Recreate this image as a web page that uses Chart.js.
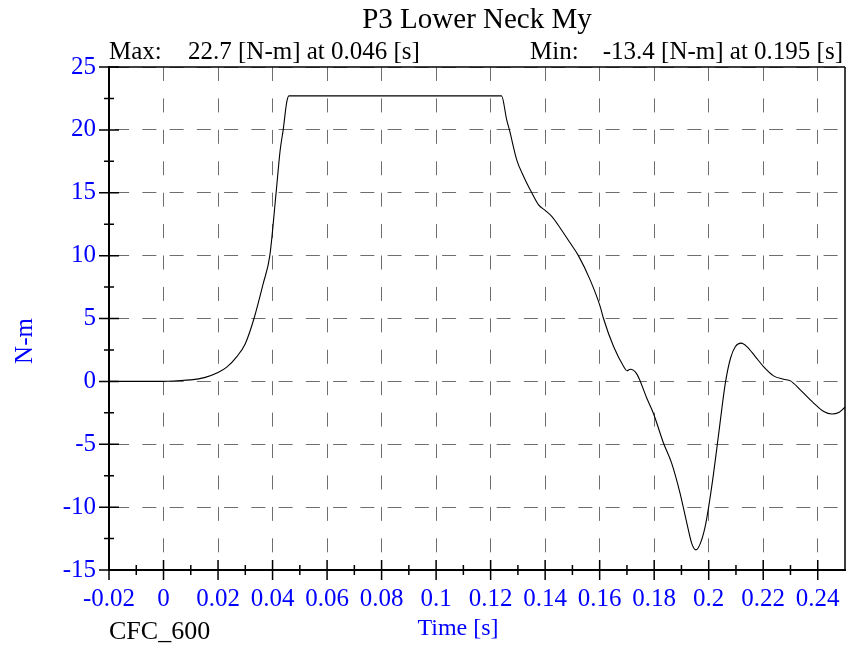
<!DOCTYPE html>
<html>
<head>
<meta charset="utf-8">
<script src="https://cdn.jsdelivr.net/npm/chart.js@4.4.1/dist/chart.umd.min.js"></script>
<style>
  html, body { margin: 0; padding: 0; background: #ffffff; }
  #wrap { width: 860px; height: 646px; }
</style>
</head>
<body>
<div id="wrap"><canvas id="c" width="860" height="646"></canvas></div>
<script>
// ---- data ----
const timeS = [
  -0.02, -0.01, 0, 0.005, 0.01, 0.015, 0.02, 0.0232, 0.0269, 0.030, 0.0332, 0.0366, 0.039,
  0.0413, 0.0428, 0.0439, 0.0452, 0.046, 0.085, 0.124, 0.1259, 0.1269, 0.1296, 0.1321, 0.1351,
  0.1376, 0.140, 0.1425, 0.1455, 0.1492, 0.1522, 0.1565, 0.1602, 0.1614, 0.1651, 0.1688, 0.170,
  0.1712, 0.1736, 0.1773, 0.1797, 0.1834, 0.1864, 0.1895, 0.192, 0.1938, 0.1953, 0.1969, 0.1987,
  0.200, 0.2018, 0.2037, 0.2061, 0.208, 0.2098, 0.2119, 0.214, 0.2171, 0.2201, 0.2238, 0.2275,
  0.230, 0.2336, 0.2385, 0.2422, 0.2452, 0.2477, 0.25
];
const myNm = [
  0, 0, 0.0, 0.05, 0.12, 0.3, 0.7, 1.13, 1.97, 3.0, 5.0, 7.8, 10.0,
  15.0, 18.4, 20.0, 22.2, 22.7, 22.7, 22.7, 20.8, 20.0, 17.6, 16.3, 15.0,
  14.04, 13.6, 13.1, 12.2, 11.0, 10.0, 8.07, 5.95, 5.0, 2.77, 1.18, 0.84,
  0.97, 0.6, -1.34, -2.53, -4.9, -6.5, -8.9, -11.3, -12.9, -13.4, -12.9, -11.55,
  -9.96, -7.3, -4.1, -0.14, 1.84, 2.77, 3.04, 2.77, 1.97, 1.18, 0.44, 0.17,
  0.04, -0.68, -1.73, -2.4, -2.6, -2.48, -2.05
];
const xTickValues = [-0.02, 0, 0.02, 0.04, 0.06, 0.08, 0.1, 0.12, 0.14, 0.16, 0.18, 0.2, 0.22, 0.24];
const xTickLabels = ['-0.02', '0', '0.02', '0.04', '0.06', '0.08', '0.1', '0.12', '0.14', '0.16', '0.18', '0.2', '0.22', '0.24'];
const xMinorTicks = [-0.01, 0.01, 0.03, 0.05, 0.07, 0.09, 0.11, 0.13, 0.15, 0.17, 0.19, 0.21, 0.23];
const yTickValues = [-15, -10, -5, 0, 5, 10, 15, 20, 25];
const yTickLabels = ['-15', '-10', '-5', '0', '5', '10', '15', '20', '25'];
const yMinorTicks = [-12.5, -7.5, -2.5, 2.5, 7.5, 12.5, 17.5, 22.5];
const titleText = 'P3 Lower Neck My';
const maxLabel = 'Max:';
const maxText = '22.7 [N-m] at 0.046 [s]';
const minLabel = 'Min:';
const minText = '-13.4 [N-m] at 0.195 [s]';
const yTitle = 'N-m';
const xTitle = 'Time [s]';
const filterText = 'CFC_600';

const SERIF = '"Liberation Serif", "Times New Roman", serif';
const BLUE = '#0000ff';
const GRID = '#6e6e6e';

const decor = {
  id: 'decor',
  afterDraw(chart) {
    const ctx = chart.ctx;
    const a = chart.chartArea;
    const xs = chart.scales.x, ys = chart.scales.y;
    ctx.save();
    ctx.strokeStyle = '#000';
    // frame
    ctx.lineWidth = 1.5;
    ctx.beginPath();
    ctx.moveTo(a.left, a.top); ctx.lineTo(a.right, a.top);
    ctx.moveTo(a.right, a.top); ctx.lineTo(a.right, a.bottom);
    ctx.stroke();
    ctx.lineWidth = 2;
    ctx.beginPath();
    ctx.moveTo(a.left, a.top - 1); ctx.lineTo(a.left, a.bottom);
    ctx.lineTo(a.right + 1, a.bottom);
    ctx.stroke();
    // ticks
    ctx.lineWidth = 1.5;
    ctx.beginPath();
    yTickValues.forEach(v => { const y = ys.getPixelForValue(v); ctx.moveTo(a.left - 10, y); ctx.lineTo(a.left + 10, y); });
    yMinorTicks.forEach(v => { const y = ys.getPixelForValue(v); ctx.moveTo(a.left - 5, y); ctx.lineTo(a.left + 5, y); });
    xTickValues.forEach(v => { const x = xs.getPixelForValue(v); ctx.moveTo(x, a.bottom - 10); ctx.lineTo(x, a.bottom + 10); });
    xMinorTicks.forEach(v => { const x = xs.getPixelForValue(v); ctx.moveTo(x, a.bottom - 5); ctx.lineTo(x, a.bottom + 5); });
    ctx.stroke();
    // texts
    ctx.fillStyle = '#000';
    ctx.textBaseline = 'alphabetic';
    ctx.font = '29px ' + SERIF;
    ctx.textAlign = 'center';
    ctx.fillText(titleText, (a.left + a.right) / 2, 28);
    ctx.font = '25px ' + SERIF;
    ctx.textAlign = 'left';
    ctx.fillText(maxLabel, a.left, 59);
    ctx.fillText(maxText, 188, 59);
    ctx.fillText(minLabel, 530, 59);
    ctx.textAlign = 'right';
    ctx.fillText(minText, 843, 59);
    ctx.font = '26px ' + SERIF;
    ctx.textAlign = 'left';
    ctx.fillText(filterText, a.left, 639);
    ctx.fillStyle = BLUE;
    ctx.font = '24px ' + SERIF;
    ctx.textAlign = 'center';
    ctx.fillText(xTitle, 458, 635);
    ctx.font = '25px ' + SERIF;
    ctx.translate(32, 341);
    ctx.rotate(-Math.PI / 2);
    ctx.fillText(yTitle, 0, 0);
    ctx.restore();
  }
};

new Chart(document.getElementById('c'), {
  type: 'line',
  data: {
    datasets: [{
      data: timeS.map((t, i) => ({ x: t, y: myNm[i] })),
      borderColor: '#000',
      borderWidth: 1.1,
      pointRadius: 0,
      fill: false,
      cubicInterpolationMode: 'monotone'
    }]
  },
  options: {
    responsive: false,
    animation: false,
    events: [],
    layout: { padding: { top: 67, right: 15, left: 0, bottom: 0 } },
    plugins: { legend: { display: false }, title: { display: false }, tooltip: { enabled: false } },
    scales: {
      x: {
        type: 'linear', min: -0.02, max: 0.25,
        afterBuildTicks: s => { s.ticks = xTickValues.map(v => ({ value: v })); },
        afterFit: s => { s.height = 76; },
        ticks: {
          color: BLUE, font: { family: SERIF, size: 25 }, padding: 14,
          maxRotation: 0, autoSkip: false,
          callback: (v, i) => xTickLabels[i]
        },
        grid: { color: GRID, lineWidth: 1, drawTicks: false },
        border: { display: false, dash: [14, 17.42], dashOffset: 0 }
      },
      y: {
        type: 'linear', min: -15, max: 25,
        afterBuildTicks: s => { s.ticks = yTickValues.map(v => ({ value: v })); },
        afterFit: s => { s.width = 109; },
        ticks: {
          color: BLUE, font: { family: SERIF, size: 25 }, padding: 13,
          autoSkip: false,
          callback: (v, i) => yTickLabels[i]
        },
        grid: { color: GRID, lineWidth: 1, drawTicks: false },
        border: { display: false, dash: [14, 13.25], dashOffset: 21.15 }
      }
    }
  },
  plugins: [decor]
});
</script>
</body>
</html>
